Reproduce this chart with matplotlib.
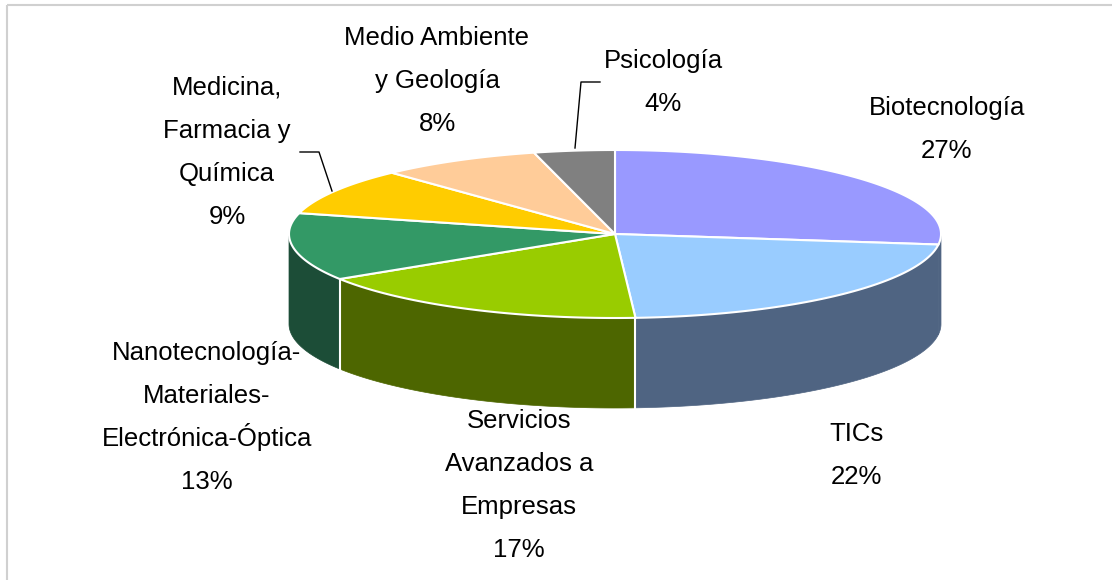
import matplotlib.pyplot as plt
import numpy as np
from matplotlib.patches import Polygon, Rectangle

# data, clockwise from 12 o'clock
labels = ["Biotecnología", "TICs", "Servicios\nAvanzados a\nEmpresas",
          "Nanotecnología-\nMateriales-\nElectrónica-Óptica",
          "Medicina,\nFarmacia y\nQuímica", "Medio Ambiente\ny Geología", "Psicología"]
values = [27, 22, 17, 13, 9, 8, 4]
top_colors = ["#9999FF", "#99CCFF", "#99CC00", "#339966", "#FFCC00", "#FFCC99", "#808080"]
side_colors = ["#4F6482", "#4F6482", "#4D6600", "#1C4D37", "#997A00", "#997A5C", "#4D4D4D"]

# centre of the first label line (pixels)
label_pos = [(947, 106), (856, 432), (519, 419), (207, 351), (227, 86), (437, 36), (663, 59)]
line_gap = 43

plt.rcParams['font.family'] = ['Liberation Sans', 'DejaVu Sans']

fig = plt.figure(figsize=(11.12, 5.8), dpi=100)
ax = fig.add_axes([0, 0, 1, 1])
ax.set_xlim(0, 1112)
ax.set_ylim(580, 0)
ax.axis("off")

ax.add_patch(Rectangle((7, 5), 1200, 700, fill=False, edgecolor="#D0D0D0", lw=1.5))

cx, cy, a, b, depth = 615, 234, 326, 84, 90

def pt(t):
    return cx + a * np.cos(t), cy - b * np.sin(t)

fracs = np.array(values) / sum(values)
starts = np.pi / 2 - 2 * np.pi * np.concatenate([[0], np.cumsum(fracs)[:-1]])
ends = starts - 2 * np.pi * fracs

# side walls (visible front half: angles between -pi and 0)
for s, e, col in zip(starts, ends, side_colors):
    for shift in (0, -2 * np.pi):
        lo = max(e + shift, -np.pi)
        hi = min(s + shift, 0)
        if hi - lo > 1e-6:
            t = np.linspace(hi, lo, 80)
            xs, ys = pt(t)
            verts = list(zip(xs, ys)) + list(zip(xs[::-1], ys[::-1] + depth))
            ax.add_patch(Polygon(verts, closed=True, facecolor=col, edgecolor=col, lw=0.5))

# white cut lines on the side wall
for e in ends:
    t = (e + np.pi) % (2 * np.pi) - np.pi
    if -np.pi * 0.95 < t < -np.pi * 0.05:
        x, y = pt(t)
        ax.plot([x, x], [y, y + depth], color="white", lw=1.5)

# top faces
for s, e, col in zip(starts, ends, top_colors):
    t = np.linspace(s, e, 120)
    xs, ys = pt(t)
    verts = [(cx, cy)] + list(zip(xs, ys))
    ax.add_patch(Polygon(verts, closed=True, facecolor=col, edgecolor="white", lw=1.5))

# labels, one text per line so accents don't change the spacing
for lab, v, (x, y) in zip(labels, values, label_pos):
    lines = lab.split("\n") + [f"{v}%"]
    for i, line in enumerate(lines):
        ax.text(x, y + i * line_gap + 9, line, ha="center", va="baseline",
                fontsize=18.5, color="black")

# leader lines
ax.plot([575, 581, 600], [148, 82, 82], color="black", lw=1)
ax.plot([332, 319, 300], [191, 152, 152], color="black", lw=1)

fig.savefig("out.png", dpi=100)
